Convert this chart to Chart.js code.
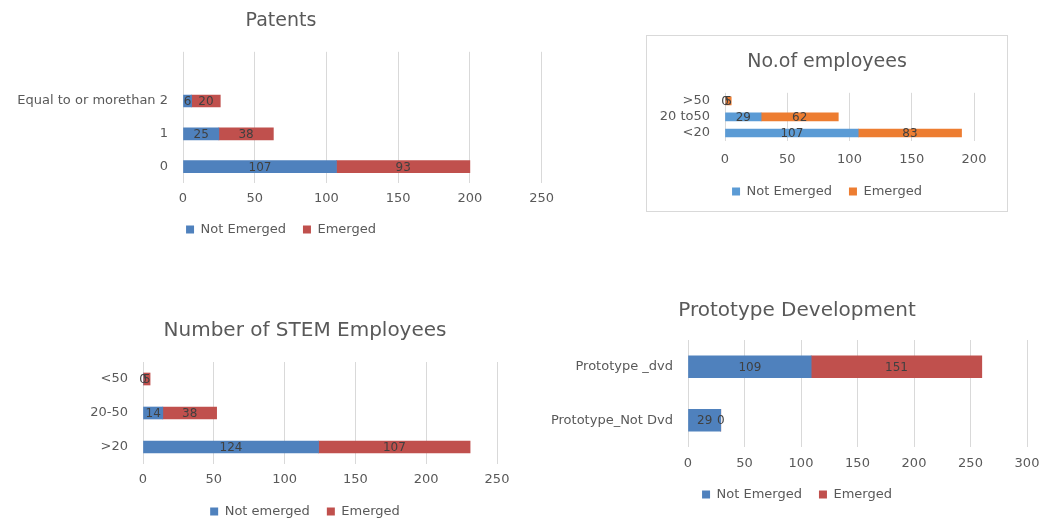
<!DOCTYPE html>
<html>
<head>
<meta charset="utf-8">
<script src="https://cdn.jsdelivr.net/npm/chart.js@4"></script>
<style>
  html, body { margin: 0; padding: 0; background: #fff; overflow: hidden; }
  body { position: relative; width: 1046px; height: 521px; }
  .box { position: absolute; }
  #empBox { left: 646px; top: 35px; width: 360px; height: 175px; border: 1px solid #d9d9d9; }
</style>
</head>
<body>
<div class="box" style="left:0;top:0"><canvas id="patents" width="562" height="246"></canvas></div>
<div class="box" id="empBox"><canvas id="employees" width="360" height="175"></canvas></div>
<div class="box" style="left:60px;top:300px"><canvas id="stem" width="490" height="228"></canvas></div>
<div class="box" style="left:535px;top:280px"><canvas id="proto" width="524" height="231"></canvas></div>
<script>
// values (Excel order: first category is at the bottom)
const patentCats = ['0', '1', 'Equal to or morethan 2', ''];
const patentNot  = [107, 25, 6, null];
const patentEm   = [93, 38, 20, null];

const empCats = ['<20', '20 to50', '>50'];
const empNot  = [107, 29, 0];
const empEm   = [83, 62, 5];

const stemCats = ['>20', '20-50', '<50'];
const stemNot  = [124, 14, 0];
const stemEm   = [107, 38, 5];

const protoCats = ['Prototype_Not Dvd', 'Prototype _dvd'];
const protoNot  = [29, 109];
const protoEm   = [0, 151];

const FONT = '"DejaVu Sans", sans-serif';
const GREY = '#595959';

// value labels in the middle of each segment
const barLabels = {
  id: 'barLabels',
  afterDatasetsDraw(chart) {
    const ctx = chart.ctx;
    ctx.save();
    ctx.font = '12px ' + FONT;
    ctx.fillStyle = '#404040';
    ctx.textAlign = 'center';
    ctx.textBaseline = 'middle';
    chart.data.datasets.forEach((ds, i) => {
      chart.getDatasetMeta(i).data.forEach((bar, j) => {
        const v = ds.data[j];
        if (v === null || v === undefined) return;
        const p = bar.getProps(['x', 'y', 'base'], true);
        ctx.fillText(v, (p.x + p.base) / 2, p.y + 1);
      });
    });
    ctx.restore();
  }
};

function makeChart(id, o) 
{
  return new Chart(document.getElementById(id), {
    type: 'bar',
    data: {
      labels: o.cats,
      datasets: [
        { label: o.names[0], data: o.notVals, backgroundColor: o.colors[0], barThickness: o.bar, yAxisID: 'y' },
        { label: o.names[1], data: o.emVals, backgroundColor: o.colors[1], barThickness: o.bar, yAxisID: 'y' }
      ]
    },
    options: {
      indexAxis: 'y',
      responsive: false,
      animation: false,
      layout: { padding: o.pad },
      scales: {
        y: {
          stacked: true, reverse: true,
          ticks: { color: GREY, font: { family: FONT, size: 13 }, padding: 15, autoSkip: false },
          grid: { display: false, drawTicks: false },
          border: { display: false },
          afterFit: (s) => { s.width = o.yWidth; }
        },
        // empty strip on the right so title and legend sit centred like the original
        yRight: {
          type: 'category', axis: 'y', position: 'right',
          ticks: { display: false },
          grid: { display: false, drawTicks: false },
          border: { display: false },
          afterFit: (s) => { s.width = o.rightWidth; }
        },
        x: {
          stacked: true, min: 0, max: o.max,
          ticks: { stepSize: 50, color: GREY, font: { family: FONT, size: 13 }, padding: o.tickPad },
          grid: { color: '#d9d9d9', drawTicks: false },
          border: { display: false },
          afterFit: (s) => { s.height = o.xHeight; }
        }
      },
      plugins: {
        title: {
          display: true, text: o.title, color: GREY,
          font: { family: FONT, size: o.titleSize, weight: 'normal' },
          padding: o.titlePad
        },
        legend: {
          position: 'bottom',
          labels: { boxWidth: 8, boxHeight: 8, padding: 17, color: GREY, font: { family: FONT, size: 13 } }
        },
        tooltip: { enabled: false }
      }
    },
    plugins: [barLabels]
  });
}

makeChart('patents', {
  cats: patentCats, notVals: patentNot, emVals: patentEm,
  names: ['Not Emerged', 'Emerged'], colors: ['#4f81bd', '#c0504d'],
  bar: 12, max: 250, title: 'Patents', titleSize: 19,
  pad: { left: 8, right: 8, top: 0, bottom: 0 },
  titlePad: { top: 10, bottom: 19 }, tickPad: 8, xHeight: 23, yWidth: 175, rightWidth: 11
});

makeChart('employees', {
  cats: empCats, notVals: empNot, emVals: empEm,
  names: ['Not Emerged', 'Emerged'], colors: ['#5b9bd5', '#ed7d31'],
  bar: 8, max: 200, title: 'No.of employees', titleSize: 19,
  pad: { left: 3, right: 3, top: 0, bottom: 3 },
  titlePad: { top: 15, bottom: 19 }, tickPad: 11, xHeight: 27, yWidth: 75, rightWidth: 30
});

makeChart('stem', {
  cats: stemCats, notVals: stemNot, emVals: stemEm,
  names: ['Not emerged', 'Emerged'], colors: ['#4f81bd', '#c0504d'],
  bar: 12, max: 250, title: 'Number of STEM Employees', titleSize: 20,
  pad: { left: 25, right: 25, top: 0, bottom: 0 },
  titlePad: { top: 19, bottom: 19 }, tickPad: 8, xHeight: 24, yWidth: 58, rightWidth: 28
});

makeChart('proto', {
  cats: protoCats, notVals: protoNot, emVals: protoEm,
  names: ['Not Emerged', 'Emerged'], colors: ['#4f81bd', '#c0504d'],
  bar: 22, max: 300, title: 'Prototype Development', titleSize: 20,
  pad: { left: 5, right: 5, top: 0, bottom: 0 },
  titlePad: { top: 19, bottom: 17 }, tickPad: 9, xHeight: 24, yWidth: 148, rightWidth: 27
});
</script>
</body>
</html>
